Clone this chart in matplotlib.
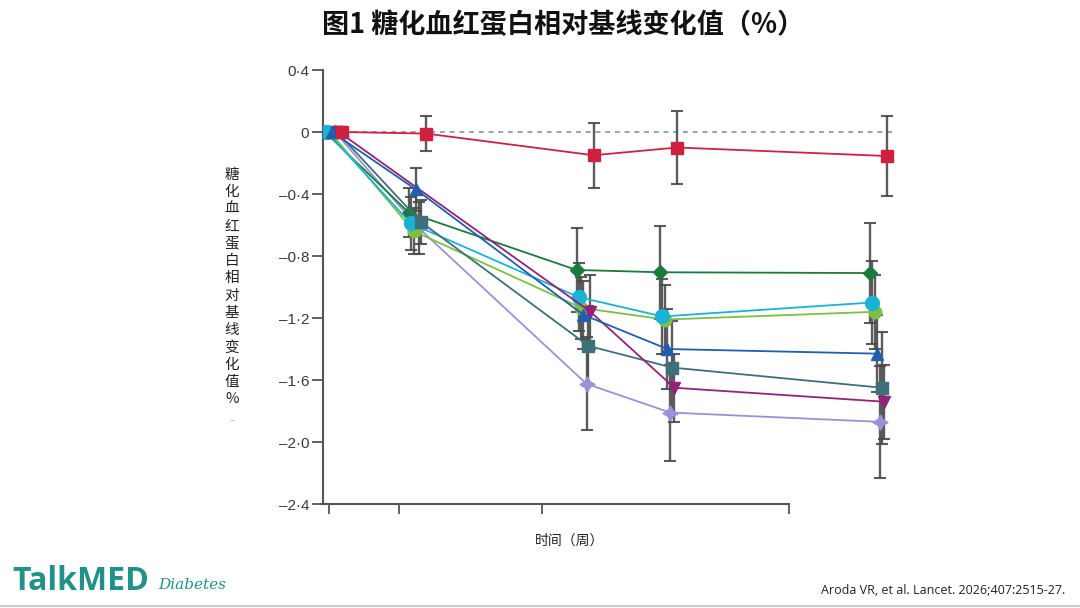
import matplotlib
matplotlib.use("Agg")
import matplotlib.pyplot as plt
import numpy as np

plt.rcParams['font.family'] = ['Noto Sans CJK SC', 'DejaVu Sans']

# data (weeks, HbA1c change from baseline, %); nan = no point drawn
weeks = [0, 8, 24, 32, 52]
series_names = ['placebo', 's1', 's2', 's3', 's4', 's5', 's6', 's7']
offsets = [0.86, -0.76, -0.57, -0.29, -0.10, 0.38, 0.57, 0.19]
values = [
    [0, -0.01, -0.15, -0.10, -0.155],
    [0, -0.52, -0.89, -0.905, -0.91],
    [0, -0.59, -1.065, -1.19, -1.10],
    [0, -0.64, -1.135, -1.21, -1.16],
    [0, -0.37, -1.18, -1.40, -1.43],
    [0, -0.58, -1.38, -1.52, -1.65],
    [0, np.nan, -1.16, -1.65, -1.74],
    [0, -0.62, -1.625, -1.81, -1.87],
]
errors = [
    [0, 0.115, 0.21, 0.235, 0.26],
    [0, 0.16, 0.27, 0.30, 0.32],
    [0, 0.17, 0.22, 0.24, 0.27],
    [0, 0.15, 0.20, 0.22, 0.24],
    [0, 0.14, 0.22, 0.26, 0.25],
    [0, 0.14, 0.26, 0.30, 0.36],
    [0, 0, 0.24, 0.22, 0.24],
    [0, 0.17, 0.30, 0.31, 0.36],
]
colors = ['#d0203f', '#1b7a3e', '#1ab3d6', '#7cc043', '#1f5fae', '#3f6f7a', '#93237a', '#a08fd6']
markers = ['s', 'D', 'o', 'o', '^', 's', 'v', (4, 1, 0)]
msizes = [8.5, 7, 10, 9, 8, 8.5, 8, 11]
zorders = [10, 4, 6, 5, 9, 7, 8, 3]

yticks = [0.4, 0, -0.4, -0.8, -1.2, -1.6, -2.0, -2.4]
ytick_labels = ['0·4', '0', '–0·4', '–0·8', '–1·2', '–1·6', '–2·0', '–2·4']
xtick_pos = [-0.38, 6.3, 19.9, 43.5]

title = '图1 糖化血红蛋白相对基线变化值（%）'
ylabel_chars = list('糖化血红蛋白相对基线变化值%')
xlabel = '时间（周）'

fig = plt.figure(figsize=(10.8, 6.08), dpi=100)
ax = fig.add_axes([323/1080, 1 - 504/608, (900 - 323)/1080, (504 - 70)/608])
ax.set_xlim(-0.95, 54.1)
ax.set_ylim(-2.4, 0.4)

ax.plot([0, 53.5], [0, 0], ls=(0, (2.5, 2.5)), color='#8fa6ad', lw=1.4, zorder=1)

for i in range(len(values)):
    y = np.array(values[i], dtype=float)
    ok = ~np.isnan(y)
    x = (np.array(weeks) + offsets[i])[ok]
    e = np.array(errors[i])[ok]
    ax.errorbar(x, y[ok], yerr=e, fmt='none', ecolor='#4a4a4a',
                elinewidth=1.7, capsize=4, capthick=1.5, alpha=0.9, zorder=2)
for i in range(len(values)):
    y = np.array(values[i], dtype=float)
    ok = ~np.isnan(y)
    x = (np.array(weeks) + offsets[i])[ok]
    ax.plot(x, y[ok], color=colors[i], lw=1.3, marker=markers[i],
            ms=msizes[i], mec=colors[i], zorder=zorders[i])

for s in ['top', 'right']:
    ax.spines[s].set_visible(False)
ax.spines['left'].set_color('#555555')
ax.spines['bottom'].set_color('#555555')
ax.spines['left'].set_linewidth(1.5)
ax.spines['bottom'].set_linewidth(1.5)
ax.spines['bottom'].set_bounds(-0.95, 43.5)

ax.set_yticks(yticks)
ax.set_yticklabels(ytick_labels, fontsize=11, color='#3a3a3a', family=['Liberation Sans', 'DejaVu Sans'])
ax.set_xticks(xtick_pos)
ax.set_xticklabels([])
ax.tick_params(axis='y', length=8, width=1.3, color='#555555', pad=2)
ax.tick_params(axis='x', length=7, width=1.3, color='#555555', direction='out')

fig.text(0.521, 1 - 25/608, title, ha='center', va='center', fontsize=19.5, fontweight='bold', color='#111111')
fig.text(232/1080, 1 - 287/608, '\n'.join(ylabel_chars), ha='center', va='center',
         fontsize=10.5, linespacing=1.3, color='#222222')
fig.text(232/1080, 1 - 420/608, '–', ha='center', va='center', fontsize=8, color='#bbbbbb',
         family=['DejaVu Sans'])
fig.text(570/1080, 1 - 541/608, xlabel, ha='center', va='center', fontsize=10, color='#222222')

fig.text(12/1080, 1 - 581/608, 'TalkMED', ha='left', va='center', fontsize=23, fontweight='bold',
         color='#22918a', family=['Open Sans', 'DejaVu Sans'])
fig.text(158/1080, 1 - 585/608, 'Diabetes', ha='left', va='center', fontsize=11, style='italic',
         color='#22918a', family=['DejaVu Serif'])
fig.text(1065/1080, 1 - 590/608, 'Aroda VR, et al. Lancet. 2026;407:2515-27.', ha='right', va='center',
         fontsize=9, color='#222222', family=['Open Sans', 'DejaVu Sans'])
fig.add_artist(plt.Line2D([0, 1], [1 - 606/608, 1 - 606/608], color='#cccccc', lw=1.5))

fig.savefig('out.png', dpi=100)
